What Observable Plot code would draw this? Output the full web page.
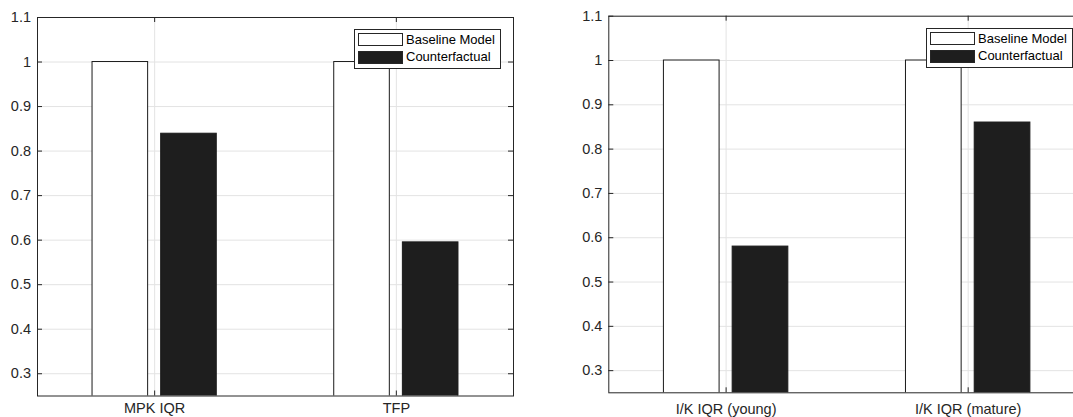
<!DOCTYPE html>
<html>
<head>
<meta charset="utf-8">
<script src="https://cdn.jsdelivr.net/npm/d3@7"></script>
<script src="https://cdn.jsdelivr.net/npm/@observablehq/plot@0.6"></script>
<style>
  html, body { margin: 0; padding: 0; background: white; }
  #wrap { position: relative; width: 1073px; height: 417px; overflow: hidden; background: white;
          font-family: "Liberation Sans", Arial, Helvetica, sans-serif; }
  .panel { position: absolute; top: 0; }
  .panel svg { max-width: none !important; display: block; }
  .legend { position: absolute; width: 145px; height: 38px; border: 1px solid #262626; background: white;
            font-size: 13px; color: #000; }
  .legend .sw { position: absolute; left: 3px; width: 43px; height: 11px; border: 1px solid #262626; }
  .legend .lab { position: absolute; left: 51px; line-height: 14px; white-space: nowrap; }
</style>
</head>
<body>
<div id="wrap"></div>
<script>
// ---- data ----
const seriesNames = ["Baseline Model", "Counterfactual"];
const leftCategories = ["MPK IQR", "TFP"];
const leftBaseline = [1, 1];
const leftCounterfactual = [0.839, 0.595];
const rightCategories = ["I/K IQR (young)", "I/K IQR (mature)"];
const rightBaseline = [1, 1];
const rightCounterfactual = [0.58, 0.86];
const yTicks = [0.3, 0.4, 0.5, 0.6, 0.7, 0.8, 0.9, 1.0, 1.1];
const seriesFill = ["#ffffff", "#1e1e1e"];

const wrap = document.getElementById("wrap");
const font = '"Liberation Sans", Arial, Helvetica, sans-serif';

function panel(cats, base, cf, cfg) {
  const rows = [];
  cats.forEach((c, i) => {
    rows.push({i: i + 1, s: 0, v: base[i]});
    rows.push({i: i + 1, s: 1, v: cf[i]});
  });
  const idx = cats.map((c, i) => i + 1);
  const fw = cfg.width - cfg.marginLeft - cfg.marginRight;
  const fh = cfg.height - cfg.marginTop - cfg.marginBottom;
  const half = 0.115, off = 0.142;
  const chart = Plot.plot({
    width: cfg.width, height: cfg.height,
    marginLeft: cfg.marginLeft, marginRight: cfg.marginRight,
    marginTop: cfg.marginTop, marginBottom: cfg.marginBottom,
    style: {fontFamily: font, fontSize: "14.5px", background: "white", color: "#262626", overflow: "visible", maxWidth: "none"},
    x: {domain: [0.5153, 2.4847]},
    y: {domain: [0.25, 1.1]},
    marks: [
      Plot.ruleY(yTicks, {stroke: "#e3e3e3", strokeWidth: 1}),
      Plot.ruleX(idx, {stroke: "#e3e3e3", strokeWidth: 1}),
      Plot.rect(rows, {
        x1: d => d.i + (d.s === 0 ? -off : off) - half,
        x2: d => d.i + (d.s === 0 ? -off : off) + half,
        y1: 0, y2: "v",
        fill: d => seriesFill[d.s], stroke: "#1a1a1a", strokeWidth: 1, clip: true
      }),
      Plot.tickY(yTicks, {y: d => d, insetRight: fw - 5, stroke: "#262626"}),
      Plot.tickY(yTicks, {y: d => d, insetLeft: fw - 5, stroke: "#262626"}),
      Plot.tickX(idx, {x: d => d, insetTop: fh - 5, stroke: "#262626"}),
      Plot.tickX(idx, {x: d => d, insetBottom: fh - 5, stroke: "#262626"}),
      Plot.axisY({ticks: yTicks, tickSize: 0, tickPadding: 6.5, tickFormat: d3.format("~g"), fill: "#262626", label: null}),
      Plot.axisX({ticks: idx, tickSize: 0, tickPadding: cfg.xPad, tickFormat: d => cats[d - 1], fill: "#262626", label: null}),
      Plot.frame({stroke: "#262626", strokeWidth: 1})
    ]
  });
  chart.style.maxWidth = "none";
  const holder = document.createElement("div");
  holder.className = "panel";
  holder.style.left = cfg.left + "px";
  holder.style.width = cfg.width + "px";
  holder.style.height = cfg.height + "px";
  holder.appendChild(chart);
  wrap.appendChild(holder);

  const lg = document.createElement("div");
  lg.className = "legend";
  lg.style.left = cfg.legendLeft + "px";
  lg.style.top = cfg.legendTop + "px";
  seriesNames.forEach((name, k) => {
    const sw = document.createElement("div");
    sw.className = "sw";
    sw.style.top = (k === 0 ? 3 : 20.5) + "px";
    sw.style.background = seriesFill[k];
    lg.appendChild(sw);
    const lab = document.createElement("div");
    lab.className = "lab";
    lab.style.top = (k === 0 ? 2.5 : 20) + "px";
    lab.textContent = name;
    lg.appendChild(lab);
  });
  wrap.appendChild(lg);
}

panel(leftCategories, leftBaseline, leftCounterfactual, {
  left: 0, width: 560, height: 417,
  marginLeft: 37, marginRight: 47, marginTop: 17, marginBottom: 21.5,
  xPad: 7, legendLeft: 354, legendTop: 29
});
panel(rightCategories, rightBaseline, rightCounterfactual, {
  left: 560, width: 540, height: 417,
  marginLeft: 48.3, marginRight: 15, marginTop: 15.7, marginBottom: 24.7,
  xPad: 10.5, legendLeft: 926, legendTop: 28
});
</script>
</body>
</html>
